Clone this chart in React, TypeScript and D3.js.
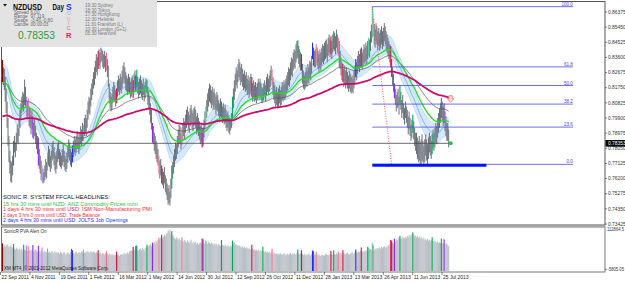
import React from "react";
import * as d3 from "d3";

const FONT = "'Liberation Sans', Arial, sans-serif";

// ---- axis labels ----
const priceTicks = ["0.86375","0.85450","0.84525","0.83600","0.82675","0.81750","0.80825","0.79900","0.78975","0.78050","0.77125","0.76200","0.75275","0.74350","0.73425"];
const dateLabels = ["22 Sep 2011","4 Nov 2011","19 Dec 2011","1 Feb 2012","16 Mar 2012","1 May 2012","14 Jun 2012","30 Jul 2012","12 Sep 2012","26 Oct 2012","11 Dec 2012","28 Jan 2013","13 Mar 2013","26 Apr 2013","11 Jun 2013","25 Jul 2013"];
const dateEvery = 32;
const lastPrice = 0.78353;
const volTop = "112864.5";
const volBottom = "-5805.05";

// ---- daily bars (pips, 0.0001) ----
const hi = [
8345,8300,8290,8240,8170,8090,7990,7880,7790,7730,
7720,7760,7850,7880,7840,7900,7950,7930,7990,8040,
8080,8120,8150,8140,8225,8180,8120,8090,8110,8060,
8050,8010,8040,8000,7960,7990,7940,7900,7880,7870,
7800,7760,7730,7700,7680,7660,7700,7740,7720,7780,
7820,7800,7760,7790,7830,7850,7810,7780,7760,7790,
7830,7850,7800,7780,7760,7800,7830,7790,7760,7740,
7780,7820,7860,7840,7800,7780,7820,7850,7880,7860,
7880,7910,7900,7870,7900,7940,7920,7960,7950,7990,
8010,7990,8040,8090,8120,8110,8170,8200,8230,8270,
8300,8340,8380,8360,8400,8410,8390,8420,8410,8400,
8380,8400,8370,8390,8350,8310,8200,8150,8120,8140,
8180,8210,8190,8160,8170,8220,8250,8230,8260,8240,
8280,8310,8330,8300,8270,8250,8230,8260,8240,8210,
8230,8250,8220,8260,8280,8250,8285,8240,8210,8230,
8250,8220,8200,8230,8190,8210,8230,8220,8180,8150,
8120,8080,8040,7960,7940,7900,7880,7850,7830,7800,
7760,7730,7740,7700,7680,7660,7690,7640,7620,7590,
7560,7580,7540,7620,7700,7720,7760,7800,7840,7830,
7880,7920,7950,7940,7900,7930,7960,7990,7970,8010,
8040,8060,8030,8010,8050,8070,8040,8020,8050,8060,
8040,8000,8020,7990,7970,7940,7950,7920,7930,7980,
8030,8060,8100,8140,8170,8200,8190,8160,8180,8150,
8170,8140,8120,8150,8130,8100,8080,8110,8090,8060,
8080,8050,8070,8040,8010,8030,8000,7990,7980,8020,
8120,8170,8220,8260,8300,8280,8320,8350,8330,8300,
8320,8290,8260,8280,8250,8270,8230,8250,8220,8240,
8260,8240,8200,8220,8190,8210,8180,8200,8230,8210,
8230,8200,8180,8170,8200,8220,8190,8240,8260,8230,
8250,8280,8310,8290,8240,8210,8190,8160,8180,8150,
8170,8190,8160,8180,8210,8190,8220,8200,8230,8250,
8270,8300,8290,8330,8360,8350,8390,8410,8400,8440,
8460,8465,8430,8410,8390,8380,8320,8280,8250,8270,
8300,8280,8320,8300,8340,8330,8370,8450,8420,8400,
8410,8440,8420,8400,8380,8410,8390,8420,8440,8430,
8450,8460,8470,8440,8480,8500,8470,8490,8460,8500,
8520,8510,8490,8530,8500,8480,8460,8400,8360,8330,
8320,8290,8310,8280,8300,8270,8250,8280,8260,8240,
8250,8230,8280,8310,8350,8330,8370,8400,8380,8410,
8420,8390,8410,8440,8420,8450,8430,8460,8480,8470,
8520,8560,8670,8600,8560,8530,8570,8550,8520,8540,
8510,8530,8550,8520,8540,8570,8550,8520,8500,8480,
8460,8440,8430,8350,8300,8260,8200,8170,8130,8150,
8170,8120,8190,8150,8100,8130,8080,8050,8090,8060,
8040,8000,8030,7990,7950,7980,8010,7970,7930,7900,
7900,7870,7850,7880,7840,7860,7890,7850,7820,7860,
7890,7860,7830,7870,7900,7880,7850,7890,7920,7900,
7930,7960,7940,7990,8020,8050,8080,8112,8090,8060,
8080,8030,8000,7960,7960,7920
];
const lo = [
8210,8190,8160,8090,8020,7930,7820,7720,7650,7600,
7595,7640,7700,7780,7750,7790,7840,7830,7880,7930,
7980,8020,8050,8030,8070,8060,8000,7980,8000,7940,
7930,7890,7920,7870,7860,7880,7830,7800,7770,7700,
7680,7650,7610,7600,7590,7595,7610,7630,7620,7670,
7700,7690,7660,7680,7730,7740,7700,7670,7650,7680,
7720,7740,7700,7690,7680,7700,7720,7690,7670,7660,
7680,7720,7750,7730,7700,7690,7720,7750,7780,7760,
7780,7800,7800,7770,7800,7830,7820,7850,7850,7880,
7900,7880,7930,7980,8020,8010,8060,8100,8130,8170,
8190,8230,8270,8250,8290,8310,8290,8330,8340,8300,
8290,8300,8270,8280,8240,8180,8080,8050,8030,8040,
8080,8100,8090,8060,8080,8120,8150,8130,8160,8140,
8170,8200,8230,8200,8160,8150,8130,8150,8140,8110,
8120,8140,8110,8150,8170,8150,8180,8140,8110,8130,
8140,8120,8100,8130,8090,8110,8150,8140,8070,8040,
8010,7960,7920,7840,7830,7790,7770,7740,7720,7700,
7650,7620,7640,7590,7580,7560,7590,7540,7520,7490,
7460,7470,7455,7500,7560,7620,7650,7690,7730,7740,
7770,7810,7840,7830,7800,7820,7850,7880,7860,7900,
7930,7950,7920,7900,7940,7960,7930,7910,7940,7950,
7930,7890,7910,7880,7860,7830,7840,7810,7820,7870,
7920,7950,7990,8030,8060,8090,8080,8050,8070,8040,
8060,8040,8010,8040,8030,8000,7980,8000,7990,7960,
7970,7950,7960,7930,7910,7930,7900,7890,7915,7930,
7980,8050,8100,8150,8190,8170,8210,8240,8220,8190,
8210,8180,8160,8170,8150,8160,8130,8140,8110,8130,
8150,8120,8090,8110,8090,8100,8080,8100,8120,8100,
8120,8100,8080,8090,8100,8120,8090,8130,8150,8130,
8150,8180,8220,8190,8130,8100,8080,8060,8070,8050,
8060,8080,8060,8070,8100,8090,8110,8100,8120,8140,
8160,8190,8180,8220,8250,8240,8280,8300,8290,8330,
8350,8360,8320,8300,8280,8280,8200,8170,8160,8170,
8190,8180,8210,8200,8230,8220,8260,8350,8310,8300,
8300,8330,8310,8290,8270,8300,8280,8310,8330,8320,
8340,8350,8360,8330,8370,8390,8360,8380,8350,8390,
8410,8400,8380,8420,8390,8370,8300,8290,8250,8220,
8210,8180,8200,8170,8190,8170,8150,8170,8150,8140,
8150,8140,8170,8200,8240,8220,8260,8290,8270,8300,
8300,8290,8310,8330,8320,8340,8320,8350,8370,8360,
8400,8450,8480,8490,8440,8420,8460,8440,8410,8430,
8400,8420,8440,8410,8430,8460,8440,8410,8390,8370,
8350,8330,8300,8240,8190,8150,8110,8070,8030,8050,
8060,8010,8070,8040,7990,8020,7980,7950,7990,7960,
7930,7890,7920,7880,7850,7870,7900,7860,7820,7790,
7770,7740,7720,7730,7710,7707,7730,7720,7710,7720,
7760,7730,7708,7740,7780,7760,7740,7770,7800,7790,
7810,7840,7830,7870,7900,7930,7960,7990,7970,7940,
7960,7910,7880,7850,7850,7810
];
// volume, thousands of ticks
const vol = [
70,58,66,60,64,68,63,59,61,66,
60,57,68,55,52,58,54,50,56,53,
51,55,49,66,52,50,64,48,62,50,
47,52,49,65,46,50,53,48,45,63,
47,44,50,58,46,42,48,45,44,55,
43,46,41,45,48,40,44,47,42,45,
41,44,39,46,42,38,43,45,40,37,
42,44,40,38,43,54,50,41,39,44,
46,42,40,45,43,41,47,44,52,42,
45,43,48,46,44,42,47,45,43,46,
44,41,45,42,50,39,43,40,38,42,
40,37,41,47,39,36,40,38,35,39,
37,34,38,36,46,35,38,33,36,39,
36,40,38,42,37,41,44,40,46,48,
50,47,60,52,49,62,64,51,48,53,
55,50,57,53,49,56,58,66,60,63,
65,68,62,72,70,74,69,78,75,80,
86,82,88,95,85,90,96,92,98,100,
108,104,110,97,106,94,90,86,82,88,
84,79,85,80,76,88,78,74,80,76,
72,78,74,70,76,81,73,69,75,71,
74,68,72,66,70,73,69,84,82,70,
67,78,72,69,75,71,68,73,70,66,
69,64,70,67,63,68,65,62,80,66,
64,61,67,63,60,65,62,58,64,61,
78,70,74,66,68,63,65,61,64,60,
58,62,57,60,55,59,56,53,57,54,
52,66,54,50,53,49,51,48,52,47,
50,46,49,60,47,44,48,43,46,42,
45,41,44,54,42,40,43,39,41,38,
40,37,41,38,36,39,42,37,35,38,
40,36,39,42,37,40,38,41,36,39,
43,52,40,38,41,50,39,36,40,37,
35,38,36,40,37,34,39,49,47,38,
36,46,37,34,38,35,33,37,36,34,
35,38,40,36,34,37,39,48,38,36,
50,39,37,41,38,46,40,42,39,41,
50,42,40,38,41,43,39,37,40,42,
44,41,39,43,52,45,42,46,44,48,
58,47,45,49,46,50,48,60,56,52,
54,50,70,64,52,55,51,57,53,56,
58,54,60,56,59,62,57,61,58,63,
65,68,80,78,72,70,84,75,82,79,
85,88,92,86,83,90,87,84,89,86,
92,88,95,90,94,97,102,96,91,93,
88,92,86,90,84,89,85,82,87,80,
83,79,84,78,81,76,80,88,77,75,
78,74,72,76,70,73,71,84,69,72,
82,70,67,71,65,62
];
// Sonic R PVA coloured bars
const pvaIdx = [0,12,23,26,28,33,39,43,49,75,76,88,104,113,124,142,145,146,157,163,170,173,184,195,217,218,221,238,250,271,283,293,321,325,337,338,341,357,360,365,370,384,390,397,398,402,403,422,423,426,432,446,467,477,480];
const pvaCode = ["dr","g","g","lpu","p","pu","pu","lpu","lg","pu","b","lg","r","p","r","r","b","g","g","pu","p","r","g","p","r","pu","lg","g","g","r","g","p","g","r","b","pu","p","r","g","p","r","b","r","g","lg","lg","p","r","r","pu","g","g","g","g","pu"];
const pvaColors: Record<string,string> = { dr:"#8b0000", r:"#dc0a3c", p:"#f0708e", g:"#00a651", lg:"#3fd19a", pu:"#8a2be2", lpu:"#b97df2", b:"#1a2cff" };

// EMA seeds (value at left edge, pips)
const seedBandHi = 8320, seedBandLo = 8180, seedBandMid = 8250;
const seedGreen = 8200, seedGray = 8200, seedMag = 7996;
const periodBand = 34, periodGreen = 55, periodGray = 89, periodMag = 200;

// Fibonacci
const fibLevels = [100, 61.8, 50, 38.2, 23.6, 0];
const fibLabels = ["100.0","61.8","50.0","38.2","23.6","0.0"];
const fibFrom = 402, fibTo = 423, fibEnd = 620, zoneEnd = 526;

const headlines = [
  { t: "SONIC R. SYSTEM  FFCAL HEADLINES:", c: "#111111", w: 107 },
  { t: "15 hrs 30 mins until NZD: ANZ Commodity Prices m/m", c: "#44b444", w: 135 },
  { t: "1 days 4 hrs 30 mins until USD: ISM Non-Manufacturing PMI", c: "#ff2a40", w: 149 },
  { t: "2 days 3 hrs 0 mins until USD: Trade Balance", c: "#e0304c", w: 97 },
  { t: "2 days 4 hrs 30 mins until USD: JOLTS Job Openings", c: "#2b2bff", w: 125 },
];
const sessions = ["19:30 Sydney","18:30 Tokyo","17:30 HongKong","12:30 Helsinki","11:30 Frankfurt (L)","10:30 London (G+1)","05:30 NewYork"];
const infoKeys = ["Spread","Range","Swaps","Candle"];
const infoVals = ["6.00","97.119","-3.40,-0.80","00:00:03"];
const sonicLetters = ["O","N","I","C"];
const sonicColors = ["#9fa6ff","#e7a6c6","#e27aa2","#e2607f"];

function ema(v: number[], period: number, seed: number) {
  const a = 2 / (period + 1);
  let e = seed;
  return v.map((x) => (e = e + a * (x - e)));
}

export default function App() {
  const N = hi.length;
  const X0 = 2.5, BAR = 0.92;
  const x = d3.scaleLinear().domain([0, 1]).range([X0, X0 + BAR]);
  const y = d3.scaleLinear().domain([0.73425, 0.86375]).range([224, 12]);
  const yv = d3.scaleLinear().domain([-5.80505, 112.8645]).range([269.3, 228.7]);
  const P = (v: number) => v / 10000;
  const med = hi.map((h, i) => (h + lo[i]) / 2);
  const eHi = ema(hi, periodBand, seedBandHi);
  const eLo = ema(lo, periodBand, seedBandLo);
  const eMid = ema(med, periodBand, seedBandMid);
  const eGreen = ema(med, periodGreen, seedGreen);
  const eGray = ema(med, periodGray, seedGray);
  const eMag = ema(med, periodMag, seedMag);

  const line = d3.line<number>().x((_, i) => x(i)).y((v) => y(P(v)));
  const band = d3.area<number>().x((_, i) => x(i)).y0((_, i) => y(P(eLo[i]))).y1((v) => y(P(v)));

  const colorOf = new Map<number, string>();
  pvaIdx.forEach((k, j) => colorOf.set(k, pvaColors[pvaCode[j]]));

  const fibHigh = d3.max(hi)!;
  const fibLow = d3.min(lo.slice(fibFrom))!;
  const fibY = (l: number) => y(P(fibLow + (fibHigh - fibLow) * l / 100));
  const volBase = 271;
  const magLast = eMag[N - 1];
  const ax = x(N) + 1;
  const ay = y(P(magLast)) - 2;

  return (
    <div style={{ position: "absolute", left: 0, top: 0 }}>
      <svg width={625} height={282} style={{ display: "block", background: "#fff" }} fontFamily={FONT}>
        {/* band */}
        <path d={band(eHi)!} fill="#d5e9fb" />
        <path d={line(eHi)!} fill="none" stroke="#a9d2f4" strokeWidth={0.7} />
        <path d={line(eLo)!} fill="none" stroke="#a9d2f4" strokeWidth={0.7} />
        {/* bars */}
        <g>
          {hi.map((h, i) => colorOf.has(i) ? null : (
            <line key={i} x1={x(i)} x2={x(i)} y1={y(P(h))} y2={y(P(lo[i]))} stroke="#6b707a" strokeWidth={1} />
          ))}
          {hi.map((h, i) => colorOf.has(i) ? (
            <line key={"c" + i} x1={x(i)} x2={x(i)} y1={y(P(h))} y2={y(P(lo[i]))} stroke={colorOf.get(i)} strokeWidth={1.1} />
          ) : null)}
        </g>
        {/* MAs */}
        <path d={line(eMid)!} fill="none" stroke="#4a90e8" strokeWidth={0.6} />
        <path d={line(eGray)!} fill="none" stroke="#505050" strokeWidth={0.7} />
        <path d={line(eGreen)!} fill="none" stroke="#1ee01e" strokeWidth={1.3} />
        <path d={line(eMag)!} fill="none" stroke="#cc0a6e" strokeWidth={1.8} />
        {/* price line */}
        <line x1={2} x2={ax} y1={y(lastPrice)} y2={y(lastPrice)} stroke="#444" strokeWidth={0.8} />
        {/* fib */}
        {fibLevels.map((l, j) => (
          <g key={l}>
            <line x1={x(fibFrom)} x2={x(fibEnd)} y1={fibY(l)} y2={fibY(l)} stroke="#4a4ae0" strokeWidth={0.8} />
            <text x={x(fibEnd)} y={fibY(l) - 1} fontSize={4.6} textAnchor="end" fill="#4a4ad0">{fibLabels[j]}</text>
          </g>
        ))}
        <line x1={x(fibFrom)} x2={x(zoneEnd)} y1={fibY(0) + 0.8} y2={fibY(0) + 0.8} stroke="#0014ff" strokeWidth={3} />
        <line x1={x(fibFrom)} y1={fibY(100)} x2={x(fibTo)} y2={fibY(0)} stroke="#ff3030" strokeWidth={0.8} strokeDasharray="1,1.5" />
        {/* markers */}
        <circle cx={ax} cy={y(lastPrice)} r={2} fill="#22c43a" />
        <path d={`M${ax - 1.6},${ay} h3.2 v3 h1.8 l-3.4,3.6 l-3.4,-3.6 h1.8 z`} fill="#ffe0e0" stroke="#ff4a3a" strokeWidth={0.6} />

        {/* frames */}
        <rect x={1.5} y={1.5} width={603.5} height={223.5} fill="none" stroke="#555" strokeWidth={1} />
        <rect x={1.5} y={227} width={603.5} height={45} fill="none" stroke="#777" strokeWidth={1} />
        <line x1={1.5} x2={605} y1={226} y2={226} stroke="#999" strokeWidth={1} />

        {/* volume */}
        {vol.map((v, i) => colorOf.has(i) ? null : (
          <rect key={"v" + i} x={x(i) - BAR / 2} width={BAR + 0.05} y={yv(v)} height={volBase - yv(v)} fill="#b6bcc4" />
        ))}
        {vol.map((v, i) => colorOf.has(i) ? (
          <rect key={"vc" + i} x={x(i) - 0.55} width={1.1} y={yv(v)} height={volBase - yv(v)} fill={colorOf.get(i)} />
        ) : null)}
        <text x={4} y={232.5} fontSize={4.6} fill="#333">SonicR PVA   Alert On</text>
        <text x={4} y={269.8} fontSize={4.6} fill="#222">XM MT4, © 2001-2012 MetaQuotes Software Corp.</text>

        {/* right axis */}
        {priceTicks.map((t) => (
          <g key={t}>
            <line x1={605} x2={607} y1={y(+t)} y2={y(+t)} stroke="#333" strokeWidth={0.6} />
            <text x={608} y={y(+t) + 1.7} fontSize={4.9} fill="#333">{t}</text>
          </g>
        ))}
        <rect x={605.5} y={y(lastPrice) - 3.3} width={19.5} height={6.6} fill="#000" />
        <text x={608} y={y(lastPrice) + 1.7} fontSize={4.9} fill="#fff">{lastPrice.toFixed(5)}</text>
        <text x={607} y={230.5} fontSize={4.6} fill="#333" textLength={17} lengthAdjust="spacingAndGlyphs">{volTop}</text>
        <line x1={605} x2={607} y1={269.3} y2={269.3} stroke="#333" strokeWidth={0.6} />
        <text x={607.5} y={271} fontSize={4.6} fill="#333" textLength={16.5} lengthAdjust="spacingAndGlyphs">{volBottom}</text>

        {/* date axis */}
        {dateLabels.map((d, k) => (
          <g key={d}>
            <line x1={x(k * dateEvery) - 2} x2={x(k * dateEvery) - 2} y1={272} y2={275} stroke="#333" strokeWidth={0.6} />
            <text x={x(k * dateEvery) - 1} y={279.3} fontSize={4.9} fill="#222">{d}</text>
          </g>
        ))}

        {/* headlines */}
        {headlines.map((h, j) => (
          <text key={j} x={3} y={[199.3, 206, 211.2, 216.5, 221.8][j]} fontSize={5.4} fill={h.c}
            textLength={h.w} lengthAdjust="spacingAndGlyphs">{h.t}</text>
        ))}

        {/* info box */}
        <rect x={0} y={0} width={157} height={47} fill="#e3e3e3" />
        <path d="M3,4 h4 l-2,2.6 z" fill="#111" />
        <text x={13} y={9.6} fontSize={8.2} fontWeight="bold" fill="#111" textLength={29} lengthAdjust="spacingAndGlyphs">NZDUSD</text>
        <text x={52.5} y={9.6} fontSize={8.2} fontWeight="bold" fill="#111" textLength={11.5} lengthAdjust="spacingAndGlyphs">Day</text>
        <text x={66} y={9.6} fontSize={8.4} fontWeight="bold" fill="#1a30ff">S</text>
        {sonicLetters.map((s, j) => (
          <text key={s} x={68.7} y={[15.2, 20.6, 25.2, 30.2][j]} fontSize={5.2} textAnchor="middle" fill={sonicColors[j]}>{s}</text>
        ))}
        <text x={68.7} y={37.6} fontSize={7.4} fontWeight="bold" textAnchor="middle" fill="#e8204a">R</text>
        {infoKeys.map((k, j) => (
          <g key={k}>
            <text x={14} y={14.4 + j * 3.9} fontSize={4.6} fill="#666">{k}</text>
            <text x={30.5} y={14.4 + j * 3.9} fontSize={4.6} fill="#666">{infoVals[j]}</text>
          </g>
        ))}
        <text x={18} y={38.5} fontSize={10.2} fill="#2a9a3c">{lastPrice.toFixed(5)}</text>
        {sessions.map((s, j) => (
          <text key={s} x={85} y={7 + j * 4.72} fontSize={4.6} fill="#777">{s}</text>
        ))}
      </svg>
    </div>
  );
}
